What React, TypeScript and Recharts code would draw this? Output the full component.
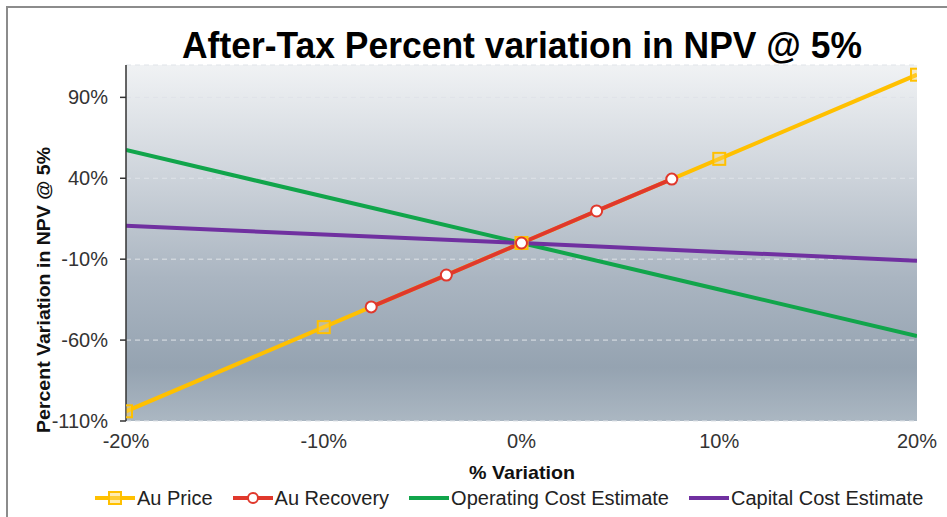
import { LineChart, Line, XAxis, YAxis, CartesianGrid, Legend } from 'recharts';

// % variation applied to each input
const AU_PRICE_X = [-20, -10, 0, 10, 20];
const AU_PRICE_Y = [-104, -52, 0, 52, 104];

const AU_RECOVERY_X = [-7.6, -3.8, 0, 3.8, 7.6];
const AU_RECOVERY_Y = [-39.5, -19.8, 0, 19.8, 39.5];

const OPEX_X = [-20, -10, 0, 10, 20];
const OPEX_Y = [57.5, 28.7, 0, -28.7, -57.5];

const CAPEX_X = [-20, -10, 0, 10, 20];
const CAPEX_Y = [10.6, 5.3, 0, -5.5, -11];

const X_TICKS = [-20, -10, 0, 10, 20];
const Y_TICKS = [-110, -60, -10, 40, 90];

const SERIES_NAMES = ['Au Price', 'Au Recovery', 'Operating Cost Estimate', 'Capital Cost Estimate'];
const SERIES_COLORS = ['#FFC000', '#E0382C', '#11A54B', '#7030A0'];
const SERIES_MARKERS = ['square', 'circle', 'none', 'none'];

const FONT = "'Liberation Sans', Arial, sans-serif";
const NARROW = "'Liberation Sans Narrow', 'Liberation Sans', Arial, sans-serif";

const toPoints = (xs: number[], ys: number[]) => xs.map((x, i) => ({ x, y: ys[i] }));

const auPrice = toPoints(AU_PRICE_X, AU_PRICE_Y);
const auRecovery = toPoints(AU_RECOVERY_X, AU_RECOVERY_Y);
const opex = toPoints(OPEX_X, OPEX_Y);
const capex = toPoints(CAPEX_X, CAPEX_Y);

const SquareDot = (props: any) => {
  const { cx, cy, index } = props;
  if (cx == null || cy == null) return <g key={`sq-${index}`} />;
  return (
    <rect
      key={`sq-${index}`}
      x={cx - 6}
      y={cy - 6}
      width={12}
      height={12}
      fill="#FFD966"
      fillOpacity={0.35}
      stroke="#FFC000"
      strokeWidth={2}
    />
  );
};

function LegendIcon({ color, marker }: { color: string; marker: string }) {
  return (
    <svg width={40} height={14} style={{ display: 'block' }}>
      <line x1={0} y1={7} x2={40} y2={7} stroke={color} strokeWidth={4} />
      {marker === 'square' && (
        <rect x={14} y={1} width={12} height={12} fill="#FFD966" fillOpacity={0.5} stroke={color} strokeWidth={2} />
      )}
      {marker === 'circle' && <circle cx={20} cy={7} r={5} fill="#fff" stroke={color} strokeWidth={2} />}
    </svg>
  );
}

const renderLegend = () => (
  <div style={{ display: 'flex', alignItems: 'center', gap: 20, paddingLeft: 95 }}>
    {SERIES_NAMES.map((name, i) => (
      <div key={name} style={{ display: 'flex', alignItems: 'center' }}>
        <LegendIcon color={SERIES_COLORS[i]} marker={SERIES_MARKERS[i]} />
        <span style={{ fontFamily: FONT, fontSize: 20, color: '#222', marginLeft: 2, lineHeight: '22px' }}>{name}</span>
      </div>
    ))}
  </div>
);

export default function App() {
  return (
    <div style={{ position: 'relative', width: 947, height: 517, background: '#fff', overflow: 'hidden' }}>
      <style>{`body{margin:0}`}</style>
      <div
        style={{
          position: 'absolute',
          left: 6,
          top: 6,
          right: -2,
          bottom: -2,
          borderLeft: '2px solid #8c8c8c',
          borderTop: '2px solid #8c8c8c',
        }}
      />
      <LineChart
        width={947}
        height={517}
        margin={{ top: 65, right: 30, bottom: 66, left: 20 }}
        style={{ position: 'absolute', left: 0, top: 0 }}
      >
        <defs>
          <linearGradient id="plotBg" x1="0" y1="0" x2="0" y2="1">
            <stop offset="0%" stopColor="#f0f2f4" />
            <stop offset="30%" stopColor="#cfd5dc" />
            <stop offset="60%" stopColor="#aab5c1" />
            <stop offset="85%" stopColor="#95a3b1" />
            <stop offset="100%" stopColor="#abb7c2" />
          </linearGradient>
        </defs>
        <CartesianGrid
          vertical={false}
          stroke="#dfe3e8"
          strokeDasharray="5 4"
          fill="url(#plotBg)"
          fillOpacity={1}
        />
        <XAxis
          type="number"
          dataKey="x"
          domain={[-20, 20]}
          ticks={X_TICKS}
          tickFormatter={(v) => `${v}%`}
          axisLine={false}
          tickLine={false}
          tickSize={6}
          tickMargin={7}
          height={30}
          allowDataOverflow
          tick={{ fontSize: 20, fill: '#333', fontFamily: FONT }}
        />
        <YAxis
          type="number"
          dataKey="y"
          domain={[-110, 110]}
          ticks={Y_TICKS}
          tickFormatter={(v) => `${v}%`}
          width={106}
          axisLine={{ stroke: '#333', strokeWidth: 1.5 }}
          tickLine={{ stroke: '#333', strokeWidth: 1.5 }}
          tickSize={6}
          tickMargin={12}
          allowDataOverflow
          tick={{ fontSize: 20, fill: '#333', fontFamily: FONT }}
        />
        <Line
          data={auPrice}
          dataKey="y"
          name={SERIES_NAMES[0]}
          type="linear"
          stroke={SERIES_COLORS[0]}
          strokeWidth={4}
          dot={SquareDot}
          activeDot={false}
          isAnimationActive={false}
        />
        <Line
          data={auRecovery}
          dataKey="y"
          name={SERIES_NAMES[1]}
          type="linear"
          stroke={SERIES_COLORS[1]}
          strokeWidth={4}
          dot={{ r: 5.5, fill: '#fff', stroke: SERIES_COLORS[1], strokeWidth: 2 }}
          activeDot={false}
          isAnimationActive={false}
        />
        <Line
          data={opex}
          dataKey="y"
          name={SERIES_NAMES[2]}
          type="linear"
          stroke={SERIES_COLORS[2]}
          strokeWidth={4}
          dot={false}
          activeDot={false}
          isAnimationActive={false}
        />
        <Line
          data={capex}
          dataKey="y"
          name={SERIES_NAMES[3]}
          type="linear"
          stroke={SERIES_COLORS[3]}
          strokeWidth={4}
          dot={false}
          activeDot={false}
          isAnimationActive={false}
        />
        <Legend
          layout="horizontal"
          verticalAlign="middle"
          align="center"
          wrapperStyle={{ top: 487, left: 0, width: 947 }}
          content={renderLegend}
        />
        <text
          x={522}
          y={58}
          textAnchor="middle"
          fontFamily={NARROW}
          fontWeight="bold"
          fontSize={36}
          fill="#000"
          textLength={680}
          lengthAdjust="spacingAndGlyphs"
        >
          After-Tax Percent variation in NPV @ 5%
        </text>
        <text
          x={522}
          y={479}
          textAnchor="middle"
          fontFamily={NARROW}
          fontWeight="bold"
          fontSize={19}
          fill="#111"
          textLength={106}
          lengthAdjust="spacingAndGlyphs"
        >
          % Variation
        </text>
        <text
          transform="translate(50 290) rotate(-90)"
          textAnchor="middle"
          fontFamily={FONT}
          fontWeight="bold"
          fontSize={18}
          fill="#111"
          textLength={286}
          lengthAdjust="spacingAndGlyphs"
        >
          Percent Variation in NPV @ 5%
        </text>
      </LineChart>
    </div>
  );
}
